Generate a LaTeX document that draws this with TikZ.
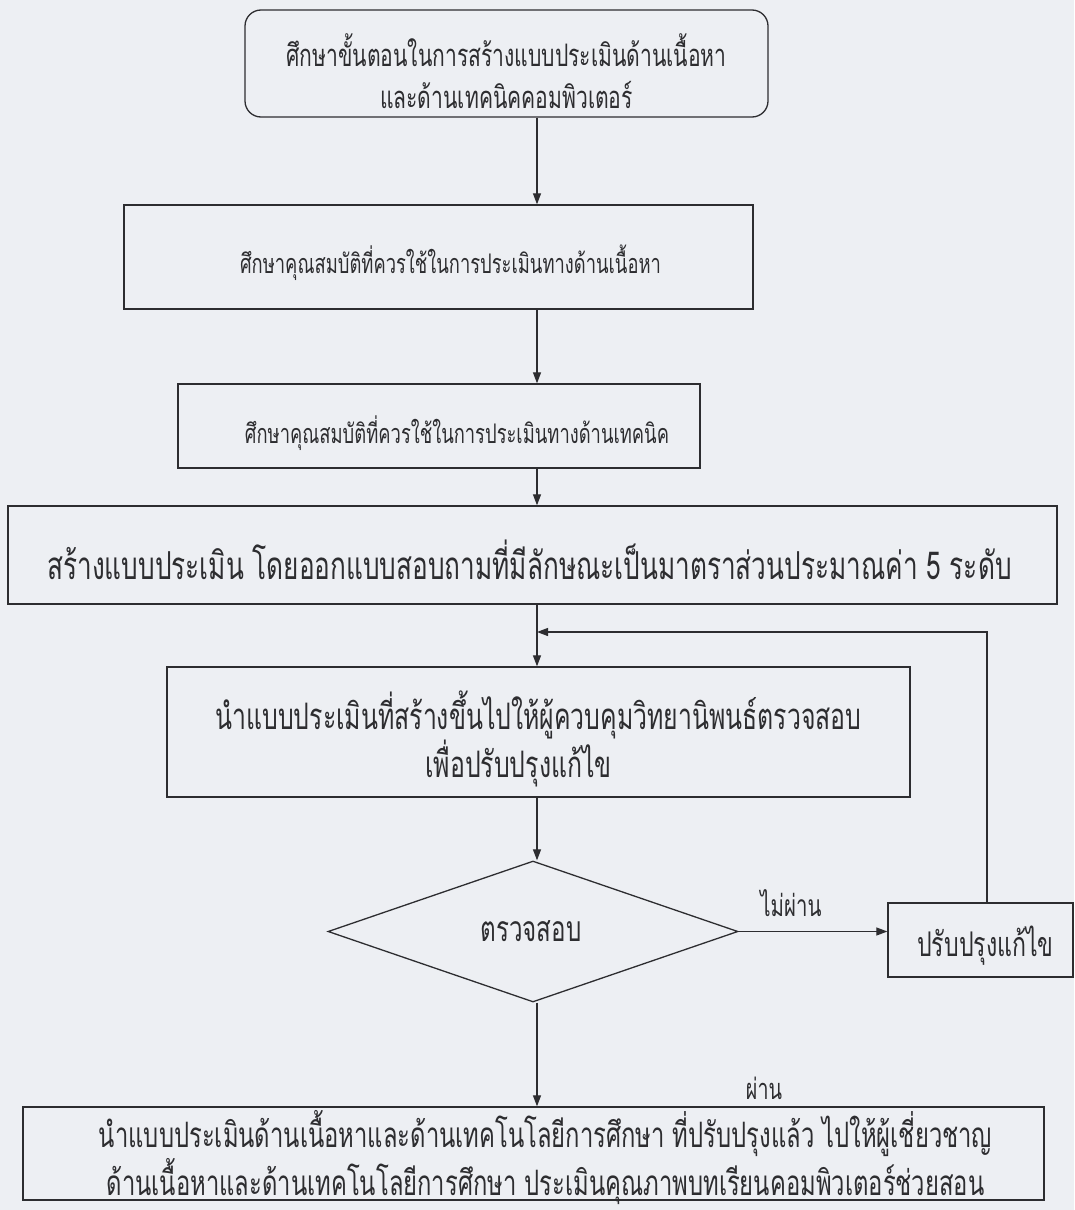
\documentclass[tikz,border=0pt]{standalone}
\usepackage{fontspec}
\usetikzlibrary{shapes.geometric,arrows.meta}
\newfontfamily\thaifont[Script=Thai,FakeStretch=0.68]{Loma}
\definecolor{paper}{RGB}{237,239,243}
\definecolor{ink}{RGB}{45,45,48}
\newcommand{\tsz}[1]{\thaifont\fontsize{#1}{42}\selectfont}
\begin{document}
\begin{tikzpicture}[x=1pt,y=-1pt,
  box/.style={draw=ink,line width=1.3pt,inner sep=0pt},
  txt/.style={text=ink,inner sep=0pt,align=center},
  arr/.style={draw=ink,line width=1.2pt,-{Triangle[length=11pt,width=8pt]}}]
\fill[paper] (0,0) rectangle (1074,1210);
\useasboundingbox (0,0) rectangle (1074,1210);
\coordinate (axis) at (537,0);
% boxes
\node[box,rounded corners=16pt,minimum width=523pt,minimum height=107pt] (b1) at (506.5,63.5) {};
\node[box,minimum width=629pt,minimum height=104pt] (b2) at (438.5,257) {};
\node[box,minimum width=522pt,minimum height=84pt] (b3) at (439,426) {};
\node[box,minimum width=1049pt,minimum height=98pt] (b4) at (532.5,555) {};
\node[box,minimum width=743pt,minimum height=130pt] (b5) at (538.5,732) {};
\node[box,diamond,aspect=2.91,minimum width=410pt,minimum height=141pt] (d) at (533,931.5) {};
\node[box,minimum width=185pt,minimum height=74pt] (fix) at (980.5,940) {};
\node[box,minimum width=1021pt,minimum height=93pt] (b7) at (533.5,1153.5) {};
% texts
\node[txt,font=\tsz{31}] (t1) at ([yshift=-8pt]b1.center)
  {ศึกษาขั้นตอนในการสร้างแบบประเมินด้านเนื้อหา\\และด้านเทคนิคคอมพิวเตอร์};
\node[txt,font=\tsz{27}] (t2) at ([xshift=12pt,yshift=-6pt]b2.center)
  {ศึกษาคุณสมบัติที่ควรใช้ในการประเมินทางด้านเนื้อหา};
\node[txt,font=\tsz{27}] (t3) at ([xshift=18pt,yshift=-7pt]b3.center)
  {ศึกษาคุณสมบัติที่ควรใช้ในการประเมินทางด้านเทคนิค};
\node[txt,font=\tsz{38.5}] (t4) at ([xshift=-3pt,yshift=-5pt]b4.center)
  {สร้างแบบประเมิน โดยออกแบบสอบถามที่มีลักษณะเป็นมาตราส่วนประมาณค่า 5 ระดับ};
\node[txt,font=\tsz{36.5}] (t5) at ([yshift=-7pt]b5.center)
  {นำแบบประเมินที่สร้างขึ้นไปให้ผู้ควบคุมวิทยานิพนธ์ตรวจสอบ\\\hspace*{-40pt}เพื่อปรับปรุงแก้ไข};
\node[txt,font=\tsz{35.5}] (td) at ([xshift=-2pt]d.center) {ตรวจสอบ};
\node[txt,font=\tsz{34}] (tf) at ([xshift=5pt,yshift=-6pt]fix.center) {ปรับปรุงแก้ไข};
\node[txt,font=\tsz{35}] (t7) at ([xshift=12pt,yshift=-4pt]b7.center)
  {นำแบบประเมินด้านเนื้อหาและด้านเทคโนโลยีการศึกษา ที่ปรับปรุงแล้ว ไปให้ผู้เชี่ยวชาญ\\ด้านเนื้อหาและด้านเทคโนโลยีการศึกษา ประเมินคุณภาพบทเรียนคอมพิวเตอร์ช่วยสอน};
\node[txt,font=\tsz{30}] (no) at (791,903) {ไม่ผ่าน};
\node[txt,font=\tsz{29}] (yes) at (764,1088) {ผ่าน};
% connectors
\coordinate (fb) at (987,632);
\draw[arr] (b1.south -| axis) -- (b2.north -| axis);
\draw[arr] (b2.south -| axis) -- (b3.north -| axis);
\draw[arr] (b3.south -| axis) -- (b4.north -| axis);
\draw[arr] (b4.south -| axis) -- (b5.north -| axis);
\draw[arr] (b5.south -| axis) -- (d.north -| axis);
\draw[arr] (d.south -| axis) -- (b7.north -| axis);
\draw[arr] (d.east) -- (fix.west |- d.east);
\draw[arr] (fix.north -| fb) -- (fb) -- (fb -| axis);
\end{tikzpicture}
\end{document}
